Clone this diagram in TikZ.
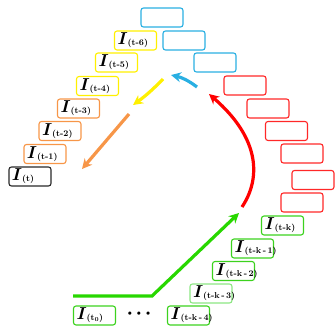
\documentclass[tikz,border=0pt]{standalone}
\usepackage{amsmath,bm}
\usetikzlibrary{arrows.meta}
\definecolor{cblue}{RGB}{41,175,226}
\definecolor{cyel}{RGB}{255,240,0}
\definecolor{corange}{RGB}{247,150,72}
\definecolor{cred}{RGB}{255,40,40}
\definecolor{cgreen}{RGB}{60,210,30}
\definecolor{clgreen}{RGB}{140,230,130}
\definecolor{cdark}{RGB}{40,40,40}
\definecolor{agreen}{RGB}{40,215,0}
\newcommand{\frm}[1]{\mbox{$\bm{I}$\raisebox{-0.8pt}{\fontsize{8.6}{8.6}\selectfont\bfseries #1}}}
\tikzset{
  frame/.style={draw=#1, line width=1.1pt, rounded corners=2.5pt, minimum height=19pt,
    text width=36pt, inner xsep=3pt, inner ysep=0pt, align=left,
    font=\fontsize{17}{17}\selectfont},
  flow/.style={draw=#1, line width=3.2pt, -{Stealth[length=10pt,width=10pt]}}
}
\begin{document}
\begin{tikzpicture}[x=1pt,y=-1pt]
\useasboundingbox (0,0) rectangle (335,327);
% frames leading up to the current one
\node[frame=cdark]   (f0)  at (30,176.5)  {\frm{(t)}};
\node[frame=corange] (f1)  at (45,154)    {\frm{(t-1)}};
\node[frame=corange] (f2)  at (60,131)    {\frm{(t-2)}};
\node[frame=corange] (f3)  at (78.5,108.5){\frm{(t-3)}};
\node[frame=cyel]    (f4)  at (97.5,86)   {\frm{(t-4)}};
\node[frame=cyel]    (f5)  at (116.5,62.5){\frm{(t-5)}};
\node[frame=cyel]    (f6)  at (135.5,40.5){\frm{(t-6)}};
% empty frames
\node[frame=cblue]   (b1)  at (162,17.5)  {};
\node[frame=cblue]   (b2)  at (184,40.5)  {};
\node[frame=cblue]   (b3)  at (215,62.5)  {};
\node[frame=cred]    (r1)  at (245,85.5)  {};
\node[frame=cred]    (r2)  at (268,108.5) {};
\node[frame=cred]    (r3)  at (286.5,131) {};
\node[frame=cred]    (r4)  at (302,153.5) {};
\node[frame=cred]    (r5)  at (313,180)   {};
\node[frame=cred]    (r6)  at (302,202.5) {};
% early frames
\node[frame=cgreen]  (g0)  at (282.5,225.5){\frm{(t-k)}};
\node[frame=cgreen]  (g1)  at (252.5,248.5){\frm{(t-k\,-\,1)}};
\node[frame=cgreen]  (g2)  at (233.5,271)  {\frm{(t-k\,-\,2)}};
\node[frame=clgreen] (g3)  at (211,293.5)  {\frm{(t-k\,-\,3)}};
\node[frame=cgreen]  (g4)  at (188.5,315.5){\frm{(t-k\,-\,4)}};
\node[frame=cgreen]  (gs)  at (94.5,315.5) {\frm{(t$_{\bm{0}}$)}};
\node (dots) at (139,314) {\fontsize{12}{12}\selectfont\textbullet\textbullet\textbullet};
% arrow end points
\coordinate (gA) at (73,296);
\coordinate (gB) at (152,296);
\coordinate (gC) at (239,213);
\coordinate (rA) at (242,207);
\coordinate (rB) at (209,94);
\coordinate (uA) at (197,87);
\coordinate (uB) at (171,75);
\coordinate (yA) at (163,79);
\coordinate (yB) at (133,105);
\coordinate (oA) at (129,114);
\coordinate (oB) at (82,169);
% arrows
\draw[flow=agreen] (gA) -- (gB) -- (gC);
\draw[flow=red] (rA) .. controls (260,180) and (262,140) .. (rB);
\draw[flow=cblue] (uA) to[bend right=12] (uB);
\draw[flow=cyel] (yA) to[bend left=5] (yB);
\draw[flow=corange] (oA) -- (oB);
\end{tikzpicture}
\end{document}
